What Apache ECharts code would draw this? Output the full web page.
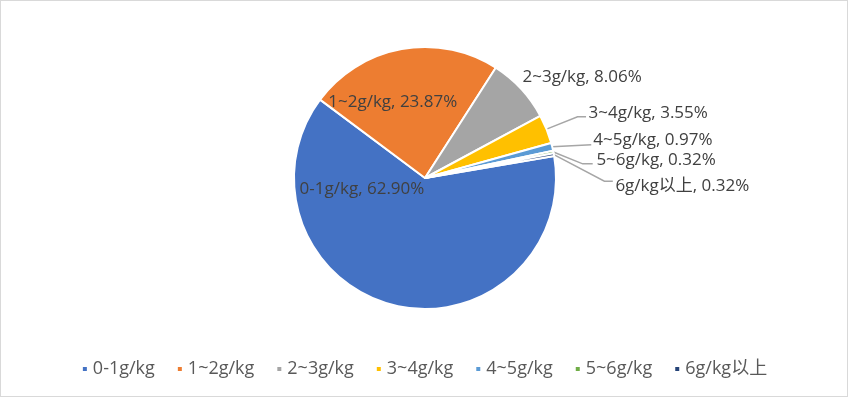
<!DOCTYPE html>
<html>
<head>
<meta charset="utf-8">
<script src="https://cdn.jsdelivr.net/npm/echarts@6/dist/echarts.min.js"></script>
<style>
html,body{margin:0;padding:0;background:#fff;}
#c{width:848px;height:397px;box-sizing:border-box;border:1px solid #d9d9d9;}
</style>
</head>
<body>
<div id="c"></div>
<script>
const categories = ['0-1g/kg', '1~2g/kg', '2~3g/kg', '3~4g/kg', '4~5g/kg', '5~6g/kg', '6g/kg以上'];
const values = [62.90, 23.87, 8.06, 3.55, 0.97, 0.32, 0.32];
const colors = ['#4472C4', '#ED7D31', '#A5A5A5', '#FFC000', '#5B9BD5', '#70AD47', '#264478'];

const FONT = "'Open Sans', 'Noto Sans CJK SC', sans-serif";
const chart = echarts.init(document.getElementById('c'), null, {renderer: 'canvas'});

// label shifts for the inside / unlined labels
const labelOffset = {0: [-47, -55], 1: [-20, -8], 2: [-19, -5]};
// leader-line geometry for small slices, relative to the slice edge point
const leader = {
  3: {p1: [31, -12.4], p2: [39.5, -12.4], t: [42, -16]},
  4: {p1: [39, -2.2], p2: [39, -2.2], t: [41, -7]},
  5: {p1: [29.3, 11.8], p2: [39.3, 11.8], t: [43, 8.5]},
  6: {p1: [50.5, 26.6], p2: [58.9, 26.6], t: [61.5, 31.5]}
};

const data = categories.map((name, i) => {
  const item = {name: name, value: values[i], itemStyle: {color: colors[i]}};
  if (i < 2) {
    item.label = {position: 'inside'};
    item.labelLine = {show: false};
  } else {
    item.label = {position: 'outside'};
    item.labelLine = {show: i !== 2, length: 10, length2: 10};
  }
  return item;
});

chart.setOption({
  animation: false,
  legend: {
    bottom: 13,
    left: 'center',
    icon: 'rect',
    itemWidth: 6,
    itemHeight: 6,
    itemGap: 21,
    textStyle: {fontFamily: FONT, fontSize: 18, color: '#595959'},
    data: categories
  },
  series: [{
    type: 'pie',
    center: [424, 177],
    radius: 131,
    startAngle: 9.7,
    clockwise: true,
    avoidLabelOverlap: false,
    itemStyle: {borderColor: '#fff', borderWidth: 2},
    label: {
      fontFamily: FONT,
      fontSize: 17,
      color: '#404040',
      formatter: p => p.name + ', ' + p.value.toFixed(2) + '%',
      distanceToLabelLine: 3
    },
    labelLine: {lineStyle: {color: '#a6a6a6', width: 1.5}, smooth: false},
    labelLayout: function (params) {
      const i = params.dataIndex;
      const o = labelOffset[i];
      if (o) return {dx: o[0], dy: o[1]};
      const L = leader[i];
      const pts = params.labelLinePoints;
      if (!L || !pts) return {};
      const p0 = pts[0];
      const add = v => [p0[0] + v[0], p0[1] + v[1]];
      return {
        x: p0[0] + L.t[0],
        y: p0[1] + L.t[1],
        align: 'left',
        verticalAlign: 'middle',
        labelLinePoints: [[p0[0], p0[1]], add(L.p1), add(L.p2)]
      };
    },
    emphasis: {disabled: true},
    data: data
  }]
});
</script>
</body>
</html>
